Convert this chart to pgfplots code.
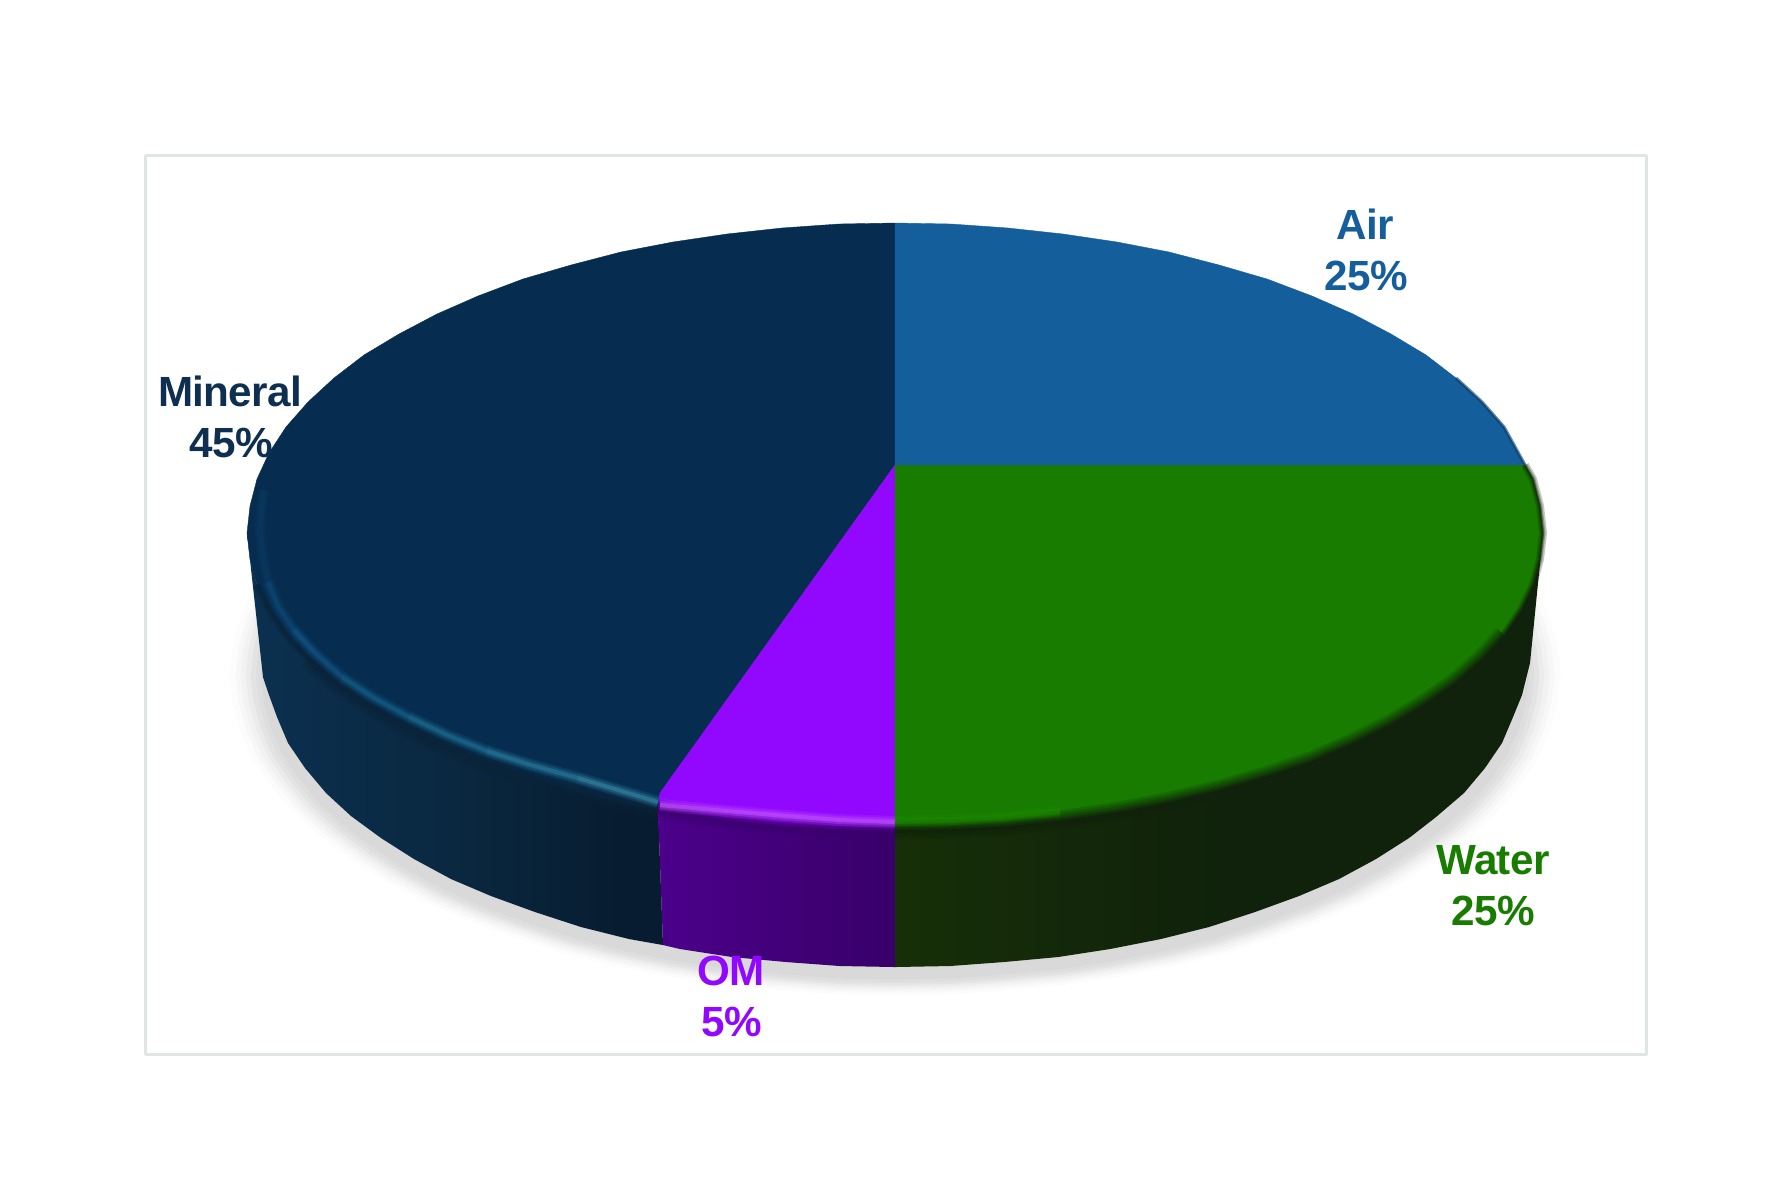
\documentclass[border=0pt]{standalone}
\usepackage{pgfplots}
\usepackage{pgfplotstable}
\usepackage{fontspec}
\setmainfont{Liberation Sans}
\pgfplotsset{compat=1.18}
\definecolor{cmin}{HTML}{062D4F}
\definecolor{cair}{HTML}{155E9C}
\definecolor{cwat}{HTML}{177C00}
\definecolor{com}{HTML}{9208FF}
\definecolor{cframe}{HTML}{E0E6E4}
\definecolor{smin}{HTML}{0A2338}
\definecolor{sma}{HTML}{0B3050}
\definecolor{smb}{HTML}{0A2840}
\definecolor{smc}{HTML}{071C30}
\definecolor{smd}{HTML}{081E33}
\definecolor{swat}{HTML}{10220B}
\definecolor{swatl}{HTML}{172F08}
\definecolor{soml}{HTML}{4C008C}
\definecolor{somr}{HTML}{380068}
\definecolor{som}{HTML}{3C006E}
\definecolor{tmin}{HTML}{0E2F50}
\definecolor{hl0}{HTML}{0A3C62}
\definecolor{hla}{HTML}{0E4A78}
\definecolor{hlb}{HTML}{125888}
\definecolor{hlc}{HTML}{16648F}
\definecolor{hld}{HTML}{1F7398}
\definecolor{hle}{HTML}{2C82A4}
\definecolor{hlf}{HTML}{3A8FAF}
\definecolor{hlo}{HTML}{C458FF}
\definecolor{hlg}{HTML}{1D8C00}
\definecolor{edgeair}{HTML}{0B3A63}
\pgfdeclarehorizontalshading{watside}{100bp}{color(0bp)=(swatl); color(25bp)=(swatl); color(50bp)=(swat); color(100bp)=(swat)}
\pgfdeclarehorizontalshading{minside}{100bp}{color(0bp)=(sma); color(25bp)=(sma); color(50bp)=(smb); color(70bp)=(smc); color(100bp)=(smd)}
\newfontfamily\lab[LetterSpace=-1.5]{Liberation Sans Bold}
% outline of the base, relative to its centre
\pgfplotstableread{
u v
-544 -151
-590 -103
-607 -78
-618 -52
-625 -26
-628 0
-625 26
-618 52
-607 78
-590 103
-569 128
-544 151
-514 173
-481 194
-444 214
-404 231
-360 247
-314 262
-266 274
-215 284
-163 292
-109 297
-55 301
0 302
55 301
109 297
163 292
215 284
266 274
314 262
360 247
404 231
444 214
481 194
514 173
544 151
569 128
590 103
607 78
618 52
625 26
628 0
625 -26
618 -52
607 -78
590 -103
544 -151
}\shadowpts
\newcommand\shadowlayer[3]{%
  \addplot[fill=#1,draw=none] table[x expr=895+\thisrow{u}*#2,y expr=675+\thisrow{v}*#3] {\shadowpts};}
\newcommand\glow[2]{%
  \addplot[#1,line width=3pt,opacity=.18] coordinates {#2};
  \addplot[#1,line width=2pt,opacity=.28] coordinates {#2};
  \addplot[#1,line width=1pt,opacity=.5] coordinates {#2};}
\newcommand\softglow[2]{%
  \addplot[#1,line width=2.6pt,opacity=.3] coordinates {#2};
  \addplot[#1,line width=1.5pt,opacity=.4] coordinates {#2};}
\newcommand\rimdark[2]{%
  \addplot[#1,line width=5pt,opacity=.18] coordinates {#2};
  \addplot[#1,line width=3.8pt,opacity=.25] coordinates {#2};
  \addplot[#1,line width=2.6pt,opacity=.3] coordinates {#2};
  \addplot[#1,line width=1.4pt,opacity=.4] coordinates {#2};
  \addplot[#1,line width=.6pt,opacity=.5] coordinates {#2};}
\newcommand\rimthin[2]{%
  \addplot[#1,line width=2pt,opacity=.25] coordinates {#2};
  \addplot[#1,line width=1.2pt,opacity=.3] coordinates {#2};
  \addplot[#1,line width=.6pt,opacity=.5] coordinates {#2};}
\newcommand\lbl[4]{\node[font=\fontsize{10.55}{12}\lab\bfseries,text=#1] at (axis cs:#2,#3) {#4};}
\begin{document}
\begin{tikzpicture}
\path[use as bounding box] (0,0) rectangle (443pt,295.25pt);
\begin{axis}[
  at={(0,0)}, anchor=south west,
  scale only axis, width=443pt, height=295.25pt,
  xmin=0, xmax=1772, ymin=0, ymax=1181, y dir=reverse,
  hide axis, clip=false, no markers, line join=round,
]
% frame
\addplot[cframe,line width=.75pt] coordinates {(145,155)(1646,155)(1646,1054)(145,1054)(145,155)};
% shadow
\shadowlayer{black!1}{1.06}{1.06}
\shadowlayer{black!3}{1.05}{1.05}
\shadowlayer{black!5}{1.042}{1.042}
\shadowlayer{black!8}{1.034}{1.034}
\shadowlayer{black!11}{1.026}{1.026}
\shadowlayer{black!13}{1.018}{1.018}
\shadowlayer{black!15}{1.01}{1.008}
% sides
\addplot[draw=none,shading=minside] coordinates {
(247,533)(250,559)(257,585)(269,610)(286,635)(308,659)(334,682)(364,703)(399,724)(437,743)(478,761)(523,776)(571,790)(621,802)(658,809)
(663,945)(629,939)(581,927)(535,912)(491,896)(451,879)(414,859)(381,838)(351,816)(326,793)(305,768)(288,743)(277,717)(269,695)(263,677)(247,533)};
\addplot[draw=none,left color=soml,right color=somr] coordinates {
(658,809)(673,812)(727,820)(782,826)(839,829)(895,830)(895,967)(840,966)(786,962)(732,957)(680,949)(663,945)(658,809)};
\addplot[draw=none,shading=watside] coordinates {
(895,830)(951,829)(1008,826)(1063,820)(1117,812)(1169,802)(1219,790)(1267,776)(1312,761)(1353,743)(1391,724)(1426,703)(1456,682)(1482,659)(1504,635)(1521,610)(1533,585)(1540,559)(1543,533)
(1530,663)(1522,695)(1513,717)(1502,743)(1485,768)(1464,793)(1436,817)(1409,838)(1376,859)(1339,879)(1299,896)(1255,912)(1209,927)(1161,939)(1110,949)(1058,957)(1004,962)(950,966)(895,967)(895,830)};
% top faces
\addplot[fill=cmin,draw=cmin,line width=.1pt] coordinates {
(895,465)(895,223)(839,224)(782,228)(727,234)(673,242)(621,252)(571,265)(523,279)(478,296)(437,314)(399,334)(364,355)(334,378)(308,402)(286,427)(269,453)(257,479)(250,506)(247,533)
(250,559)(257,585)(269,610)(286,635)(308,659)(334,682)(364,703)(399,724)(437,743)(478,761)(523,776)(571,790)(621,802)(658,809)(660,793)(895,465)};
\addplot[fill=com,draw=com,line width=.1pt] coordinates {
(895,465)(660,793)(658,809)(673,812)(727,820)(782,826)(839,829)(895,830)(895,465)};
\addplot[fill=cwat,draw=cwat,line width=.1pt] coordinates {
(895,465)(895,830)(951,829)(1008,826)(1063,820)(1117,812)(1169,802)(1219,790)(1267,776)(1312,761)(1353,743)(1391,724)(1426,703)(1456,682)(1482,659)(1504,635)(1521,610)(1533,585)(1540,559)(1543,533)(1540,506)(1533,479)(1525,465)(895,465)};
\addplot[fill=cair,draw=cair,line width=.1pt] coordinates {
(895,465)(1525,465)(1504,427)(1482,402)(1456,378)(1426,355)(1391,334)(1353,314)(1312,296)(1267,279)(1219,265)(1169,252)(1117,242)(1063,234)(1008,228)(951,224)(895,223)(895,465)};
% rim shadow between top and side
\rimthin{smin}{(257,585)(269,610)(286,635)(308,659)}
\rimdark{smin}{(308,659)(334,682)(364,703)(399,724)(437,743)(478,761)(523,776)(571,790)(621,802)(658,809)}
\rimdark{som}{(658,809)(673,812)(727,820)(782,826)(839,829)(895,830)}
\rimdark{swat}{(895,830)(951,829)(1008,826)(1063,820)(1117,812)(1169,802)(1219,790)(1267,776)(1312,761)(1353,743)(1391,724)(1426,703)(1456,682)(1482,659)(1504,635)}
\rimthin{swat}{(1504,635)(1521,610)(1533,585)(1540,559)(1543,533)(1540,506)(1533,479)(1525,465)}
\addplot[edgeair,line width=.8pt,opacity=.6] coordinates {(1525,465)(1504,427)(1482,402)(1456,378)};
% bevel highlights
\softglow{hl0}{(264,490)(261,510)(260,533)(263,558)(268,582)}
\glow{hla}{(268,582)(279,608)(294,630)}
\glow{hlb}{(294,630)(317,655)(342,677)}
\glow{hlc}{(342,677)(374,698)(409,717)}
\glow{hld}{(409,717)(447,735)(487,751)}
\glow{hle}{(487,751)(531,765)(578,778)}
\glow{hlf}{(578,778)(618,790)(658,802)}
\glow{hlo}{(660,805)(727,811)(787,816)(840,820)(895,822)}
\softglow{hlg}{(895,821)(950,820)(1000,817)(1060,811)}
% labels
\lbl{cair}{1365}{224}{Air}
\lbl{cair}{1366}{276}{25\%}
\lbl{cwat}{1493}{860}{Water}
\lbl{cwat}{1493}{911}{25\%}
\lbl{com}{731}{971}{OM}
\lbl{com}{732}{1022}{5\%}
\lbl{tmin}{230}{391}{Mineral}
\lbl{tmin}{231}{443}{45\%}
\end{axis}
\end{tikzpicture}
\end{document}
